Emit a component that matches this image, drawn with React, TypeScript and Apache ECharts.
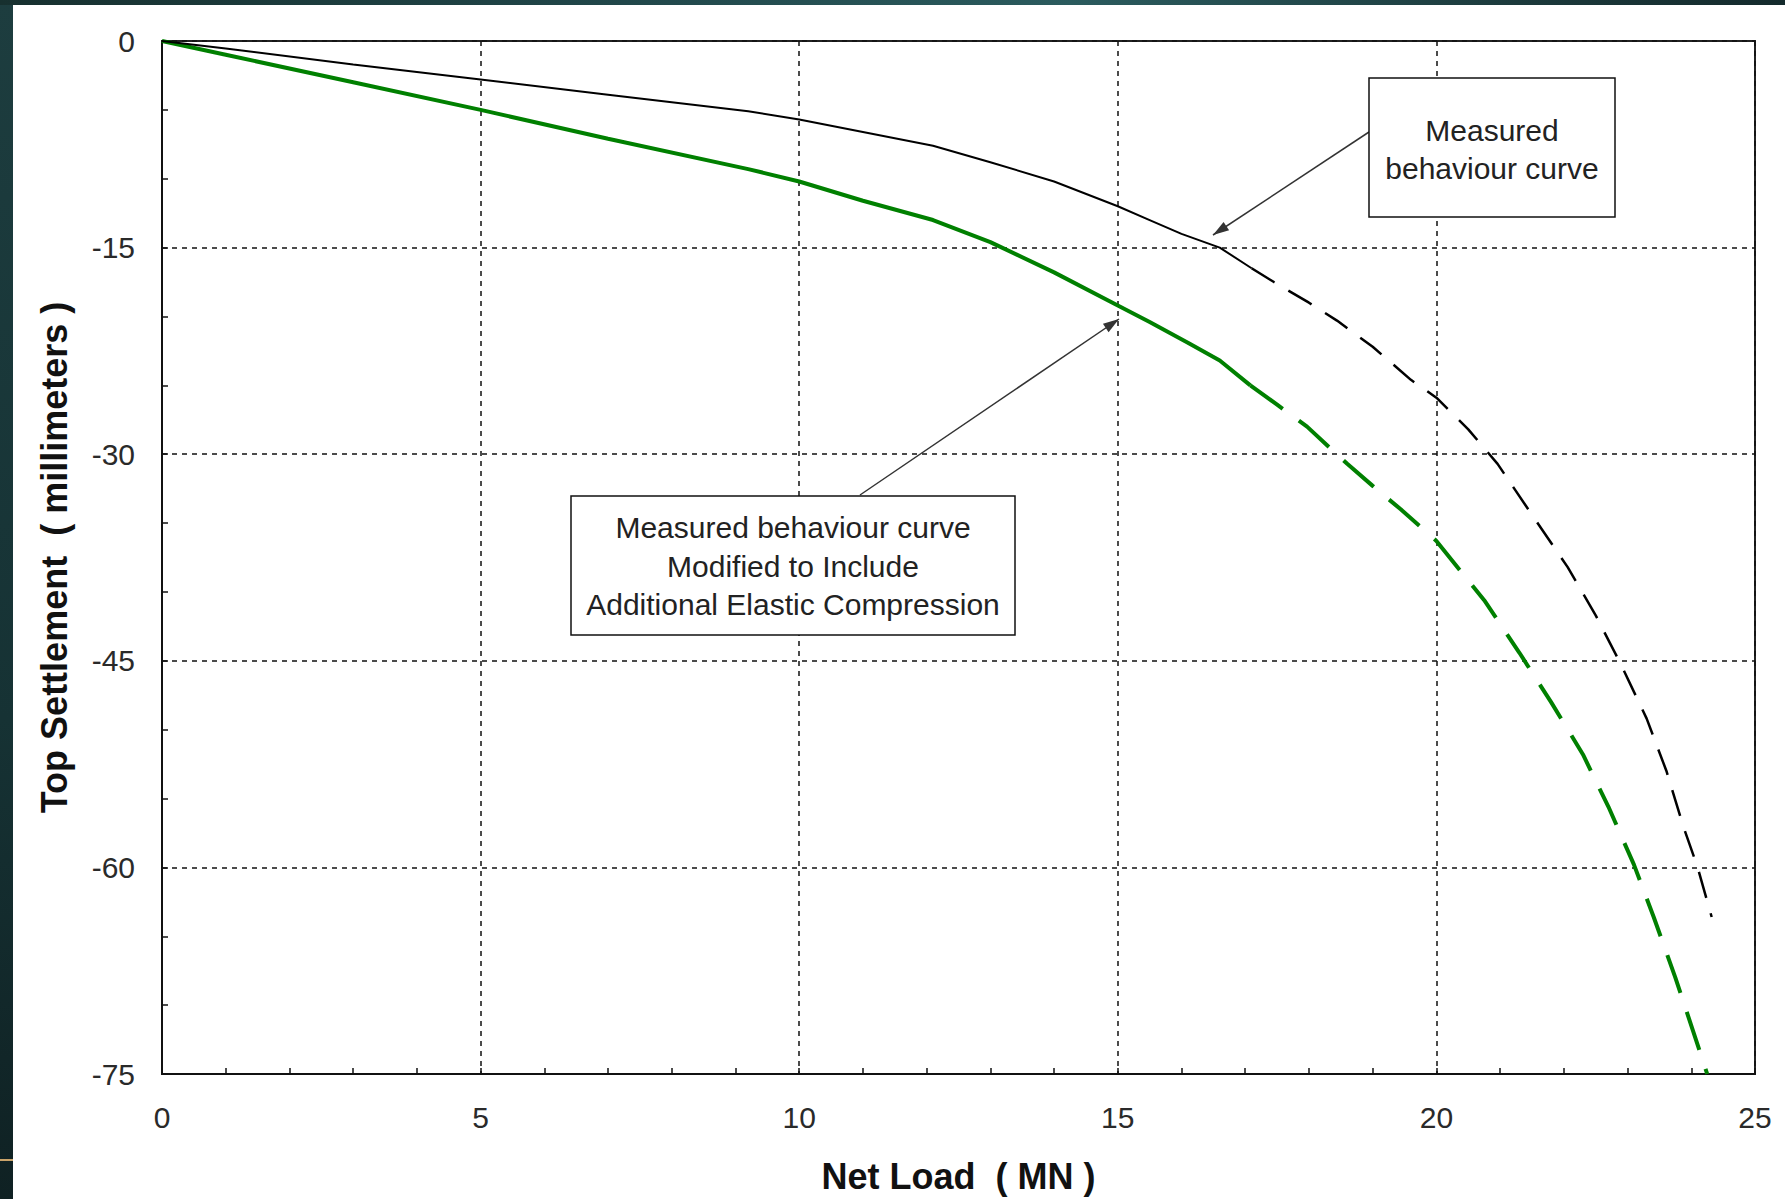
import React, { useEffect, useRef } from "react";
import * as echarts from "echarts";

// ---- data ----
const xMin = 0;
const xMax = 25;
const xInterval = 5;
const yMin = -75;
const yMax = 0;
const yInterval = 15;

const xAxisTitle = "Net Load  ( MN )";
const yAxisTitle = "Top Settlement  ( millimeters )";

// Measured behaviour curve (black) – solid part, then dashed extrapolation
const blackSolid: [number, number][] = [
  [0, 0], [1, -0.55], [3, -1.7], [5, -2.8], [7, -3.9], [9.2, -5.1],
  [10, -5.7], [11, -6.6], [12.1, -7.6], [13, -8.8], [14, -10.2],
  [15, -12.0], [15.5, -13.0], [16, -14.0], [16.6, -15.0], [17.1, -16.5],
];
const blackDashed: [number, number][] = [
  [17.1, -16.5], [17.45, -17.5], [18.0, -19.0], [18.44, -20.3], [19.0, -22.2],
  [19.6, -24.6], [20.0, -25.9], [20.5, -28.2], [20.96, -30.7], [21.5, -34.4],
  [22.06, -38.2], [22.5, -41.7], [22.9, -45.3], [23.3, -49.2], [23.61, -53.0],
  [23.88, -57.1], [24.1, -60.0], [24.32, -63.6],
];

// Modified curve (green) – solid part, then dashed extrapolation
const greenSolid: [number, number][] = [
  [0, 0], [1, -1.0], [3, -3.0], [5, -5.0], [7, -7.1], [9.2, -9.3],
  [10, -10.2], [11, -11.6], [12.1, -13.0], [13, -14.6], [14, -16.8],
  [15, -19.2], [15.5, -20.4], [16.1, -21.9], [16.6, -23.2], [17.08, -25.0],
];
const greenDashed: [number, number][] = [
  [17.08, -25.0], [17.5, -26.4], [17.97, -28.0], [18.6, -30.7], [19.0, -32.3],
  [19.44, -34.0], [20.0, -36.3], [20.4, -38.6], [20.75, -40.6], [21.3, -44.4],
  [21.8, -48.0], [22.3, -51.8], [22.7, -55.6], [23.1, -59.8], [23.41, -63.6],
  [23.75, -68.0], [24.03, -71.9], [24.25, -75.0],
];

const noteMeasured = ["Measured", "behaviour curve"];
const noteModified = [
  "Measured behaviour curve",
  "Modified to Include",
  "Additional Elastic Compression",
];

// ---- layout ----
const W = 1785;
const H = 1199;
const FONT = "'Liberation Sans', Arial, Helvetica, sans-serif";

function arrowHead(tx: number, ty: number, fx: number, fy: number, len = 16, half = 5) {
  const dx = tx - fx;
  const dy = ty - fy;
  const d = Math.sqrt(dx * dx + dy * dy) || 1;
  const ux = dx / d;
  const uy = dy / d;
  const bx = tx - ux * len;
  const by = ty - uy * len;
  return [
    [tx, ty],
    [bx - uy * half, by + ux * half],
    [bx + uy * half, by - ux * half],
  ];
}

export default function App() {
  const ref = useRef<HTMLDivElement>(null);

  useEffect(() => {
    if (!ref.current) return;
    const chart = echarts.init(ref.current, undefined, { renderer: "svg" });

    const a1 = { fx: 1369, fy: 132, tx: 1213, ty: 235 };
    const a2 = { fx: 860, fy: 495, tx: 1119, ty: 319 };

    const option: any = {
      animation: false,
      backgroundColor: "transparent",
      grid: {
        left: 162,
        right: W - 1755,
        top: 41,
        bottom: H - 1074,
        show: true,
        borderColor: "#222",
        borderWidth: 2,
        backgroundColor: "transparent",
        containLabel: false,
        outerBoundsMode: "none",
      },
      xAxis: {
        type: "value",
        min: xMin,
        max: xMax,
        interval: xInterval,
        name: xAxisTitle,
        nameLocation: "middle",
        nameGap: 84,
        nameTextStyle: { fontFamily: FONT, fontSize: 36, fontWeight: "bold", color: "#111" },
        axisLine: { show: true, onZero: false, lineStyle: { color: "#111", width: 2 } },
        axisTick: { show: true, inside: true, length: 6, lineStyle: { color: "#111", width: 1.5 } },
        minorTick: { show: true, splitNumber: 5, length: 6, lineStyle: { color: "#111", width: 1.5 } },
        axisLabel: { fontFamily: FONT, fontSize: 30, color: "#2a2a2a", margin: 28 },
        splitLine: { show: true, lineStyle: { color: "#111", width: 1.5, type: [5, 5] } },
        minorSplitLine: { show: false },
      },
      yAxis: {
        type: "value",
        min: yMin,
        max: yMax,
        interval: yInterval,
        name: yAxisTitle,
        nameLocation: "middle",
        nameGap: 90,
        nameRotate: 90,
        nameTextStyle: { fontFamily: FONT, fontSize: 36, fontWeight: "bold", color: "#111" },
        axisLine: { show: true, onZero: false, lineStyle: { color: "#111", width: 2 } },
        axisTick: { show: true, inside: true, length: 6, lineStyle: { color: "#111", width: 1.5 } },
        minorTick: { show: true, splitNumber: 3, length: 6, lineStyle: { color: "#111", width: 1.5 } },
        axisLabel: { fontFamily: FONT, fontSize: 30, color: "#2a2a2a", margin: 27 },
        splitLine: { show: true, lineStyle: { color: "#111", width: 1.5, type: [5, 5] } },
        minorSplitLine: { show: false },
      },
      series: [
        {
          name: "Modified (measured)",
          type: "line",
          data: greenSolid,
          showSymbol: false,
          symbol: "none",
          lineStyle: { color: "#008000", width: 4 },
          z: 3,
        },
        {
          name: "Modified (extrapolated)",
          type: "line",
          data: greenDashed,
          showSymbol: false,
          symbol: "none",
          lineStyle: { color: "#008000", width: 4, type: [40, 20], cap: "butt" },
          z: 3,
        },
        {
          name: "Measured",
          type: "line",
          data: blackSolid,
          showSymbol: false,
          symbol: "none",
          lineStyle: { color: "#000", width: 2 },
          z: 4,
        },
        {
          name: "Measured (extrapolated)",
          type: "line",
          data: blackDashed,
          showSymbol: false,
          symbol: "none",
          lineStyle: { color: "#000", width: 2.5, type: [27, 16], cap: "butt" },
          z: 4,
        },
      ],
      graphic: [
        {
          type: "line",
          z: 100,
          shape: { x1: a1.fx, y1: a1.fy, x2: a1.tx, y2: a1.ty },
          style: { stroke: "#333", lineWidth: 1.5 },
        },
        {
          type: "polygon",
          z: 100,
          shape: { points: arrowHead(a1.tx, a1.ty, a1.fx, a1.fy) },
          style: { fill: "#333" },
        },
        {
          type: "line",
          z: 100,
          shape: { x1: a2.fx, y1: a2.fy, x2: a2.tx, y2: a2.ty },
          style: { stroke: "#333", lineWidth: 1.5 },
        },
        {
          type: "polygon",
          z: 100,
          shape: { points: arrowHead(a2.tx, a2.ty, a2.fx, a2.fy) },
          style: { fill: "#333" },
        },
        {
          type: "rect",
          z: 100,
          shape: { x: 1369, y: 78, width: 246, height: 139 },
          style: { fill: "#fff", stroke: "#111", lineWidth: 1.5 },
        },
        {
          type: "text",
          z: 101,
          x: 1492,
          y: 149,
          style: {
            text: noteMeasured.join("\n"),
            font: `30px ${FONT}`,
            fill: "#222",
            align: "center",
            verticalAlign: "middle",
            lineHeight: 38,
          },
        },
        {
          type: "rect",
          z: 100,
          shape: { x: 571, y: 496, width: 444, height: 139 },
          style: { fill: "#fff", stroke: "#111", lineWidth: 1.5 },
        },
        {
          type: "text",
          z: 101,
          x: 793,
          y: 566,
          style: {
            text: noteModified.join("\n"),
            font: `30px ${FONT}`,
            fill: "#222",
            align: "center",
            verticalAlign: "middle",
            lineHeight: 38.5,
          },
        },
      ],
    };

    chart.setOption(option);
    return () => chart.dispose();
  }, []);

  return (
    <div
      style={{
        position: "absolute",
        left: 0,
        top: 0,
        width: W,
        height: H,
        overflow: "hidden",
        background: "linear-gradient(180deg, #1d3d3f 0%, #163234 60%, #0f2123 100%)",
      }}
    >
      <div
        style={{
          position: "absolute",
          left: 0,
          top: 0,
          width: W,
          height: 5,
          background: "linear-gradient(90deg, #17302f 0%, #21474a 35%, #2b5b5e 60%, #1c3a3c 85%, #142a2c 100%)",
        }}
      />
      <div style={{ position: "absolute", left: 0, top: 1159, width: 13, height: 2, background: "#c9a36a" }} />
      <div style={{ position: "absolute", left: 13, top: 5, width: W - 13, height: H - 5, background: "#ffffff" }} />
      <div ref={ref} style={{ position: "absolute", left: 0, top: 0, width: W, height: H }} />
    </div>
  );
}
